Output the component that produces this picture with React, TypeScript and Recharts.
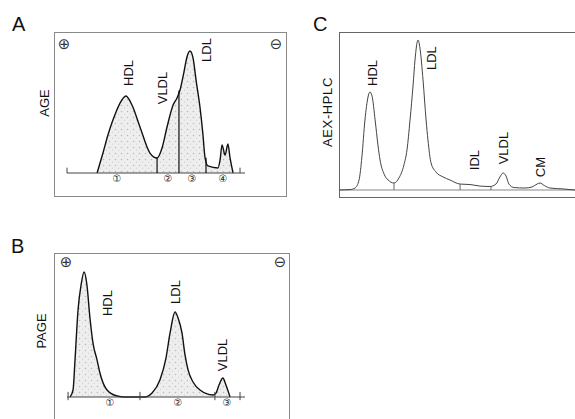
import {
  ComposedChart,
  Area,
  Line,
  XAxis,
  YAxis,
  ReferenceLine,
  ReferenceDot,
} from "recharts";

// A: agarose gel electrophoresis (relative mobility 0-100, relative signal 0-100)
const AGE_POS = [16.9, 20.2, 23.0, 25.8, 29.8, 33.1, 36.5, 41.0, 46.6, 50.6, 53.4, 56.2, 59.6, 61.8, 63.5, 65.7, 67.4, 69.1, 70.8, 72.5, 74.7, 76.4, 77.5, 79.2, 84.8, 86.0, 87.1, 88.8, 90.4, 91.6, 93.3];
const AGE_SIGNAL = [0, 15.0, 28.6, 39.8, 52.6, 57.9, 51.1, 34.6, 15.0, 11.3, 18.8, 34.6, 51.1, 56.4, 62.4, 75.9, 87.2, 91.7, 86.5, 69.9, 49.6, 28.6, 12.0, 5.3, 3.8, 9.8, 21.1, 13.5, 21.8, 11.3, 0];
const AGE_CUTS = [50.6, 62.9, 78.1];
const AGE_CUT_TOPS = [11.5, 62, 11.5];
const AGE_ENDS = [0, 97.2];
const AGE_FRACTIONS = ["①", "②", "③", "④"];
const AGE_FRACTION_POS = [28.1, 56.7, 70.2, 87.6];
const AGE_PEAKS = ["HDL", "VLDL", "LDL"];
const AGE_PEAK_POS = [34.3, 53.9, 78.1];
const AGE_PEAK_LEVEL = [75.2, 63.9, 92.5];

// B: polyacrylamide gel electrophoresis
const PAGE_POS = [1.7, 3.4, 4.5, 6.2, 7.9, 9.6, 11.2, 12.9, 14.6, 16.9, 18.5, 22.5, 28.1, 32.6, 43.8, 47.8, 52.2, 55.6, 57.9, 60.7, 62.4, 64.6, 66.3, 68.0, 70.8, 74.7, 82.0, 83.7, 85.4, 87.6, 89.3, 91.6];
const PAGE_SIGNAL = [0, 5.5, 29.1, 68.5, 88.2, 98.4, 88.2, 62.2, 42.5, 29.1, 18.9, 5.5, 0.8, 0, 0, 3.1, 13.4, 30.7, 50.4, 66.9, 62.2, 50.4, 33.1, 21.3, 11.8, 5.5, 1.6, 3.1, 9.4, 15.0, 9.4, 0];
const PAGE_ENDS = [0.6, 41.0, 83.1, 97.2];
const PAGE_FRACTIONS = ["①", "②", "③"];
const PAGE_FRACTION_POS = [24.2, 62.4, 89.9];
const PAGE_PEAKS = ["HDL", "LDL", "VLDL"];
const PAGE_PEAK_POS = [22.5, 60.7, 87.6];
const PAGE_PEAK_LEVEL = [74.0, 82.7, 33.1];

// C: anion-exchange HPLC
const HPLC_TIME = [0, 4.7, 6.8, 8.5, 9.7, 11.0, 12.3, 13.1, 14.0, 15.3, 16.5, 17.4, 19.1, 20.8, 23.3, 25.4, 27.5, 28.8, 30.1, 31.4, 32.2, 33.5, 34.3, 35.6, 36.9, 37.7, 39.0, 41.1, 44.1, 47.0, 51.3, 55.5, 59.7, 64.0, 66.5, 68.2, 69.5, 70.8, 72.0, 74.2, 78.8, 81.8, 83.9, 85.2, 86.9, 89.4, 94.9, 100];
const HPLC_SIGNAL = [0, 0.3, 1.3, 6.6, 21.7, 46.1, 61.2, 64.5, 61.8, 46.1, 29.6, 19.7, 10.5, 6.6, 4.6, 7.9, 16.4, 26.3, 46.1, 69.1, 85.5, 98.7, 93.4, 72.4, 46.1, 32.9, 17.8, 11.8, 8.6, 6.6, 3.9, 3.6, 2.6, 2.3, 3.9, 8.6, 11.2, 9.2, 3.9, 1.6, 1.3, 2.0, 3.9, 4.6, 3.0, 1.3, 0.7, 0];
const HPLC_CUTS = [23.3, 51.3, 64.4];
const HPLC_CUT_TOPS = [4.6, 3.9, 2.3];
const HPLC_PEAKS = ["HDL", "LDL", "IDL", "VLDL", "CM"];
const HPLC_PEAK_POS = [14.0, 39.4, 57.6, 69.5, 85.2];
const HPLC_PEAK_LEVEL = [77.0, 86.8, 19.7, 27.6, 15.1];

const SANS = "'Liberation Sans', Arial, sans-serif";

function zip(xs: number[], ys: number[]) {
  return xs.map((x, i) => ({ x, y: ys[i] }));
}

function rotatedLabel(text: string) {
  return (p: any) => (
    <text
      x={p.cx}
      y={p.cy}
      transform={`rotate(-90 ${p.cx} ${p.cy})`}
      textAnchor="middle"
      dominantBaseline="central"
      fontFamily={SANS}
      fontSize={13}
      fill="#111"
    >
      {text}
    </text>
  );
}

function Stipple({ id }: { id: string }) {
  return (
    <defs>
      <pattern id={id} width="6" height="6" patternUnits="userSpaceOnUse">
        <rect width="6" height="6" fill="#eeeeee" />
        <circle cx="1.5" cy="1.5" r="0.8" fill="#bcbcbc" />
        <circle cx="4.5" cy="4.2" r="0.6" fill="#d0d0d0" />
      </pattern>
    </defs>
  );
}

type GelProps = {
  id: string;
  width: number;
  height: number;
  margin: { top: number; right: number; bottom: number; left: number };
  pos: number[];
  signal: number[];
  cuts: number[];
  cutTops: number[];
  ends: number[];
  endLow: number;
  fractions: string[];
  fractionPos: number[];
  peaks: string[];
  peakPos: number[];
  peakLevel: number[];
};

function Gel(props: GelProps) {
  const data = zip(props.pos, props.signal);
  return (
    <ComposedChart width={props.width} height={props.height} data={data} margin={props.margin}>
      <Stipple id={props.id} />
      <XAxis
        type="number"
        dataKey="x"
        domain={[0, 100]}
        ticks={props.fractionPos}
        interval={0}
        tickFormatter={(v: number) => props.fractions[props.fractionPos.indexOf(v)] ?? ""}
        axisLine={false}
        tickLine={false}
        tickSize={0}
        tickMargin={2}
        height={14}
        tick={{ fontSize: 10, fill: "#222", fontFamily: "DejaVu Sans" }}
      />
      <YAxis hide type="number" domain={[0, 100]} />
      <Area
        type="monotone"
        dataKey="y"
        stroke="#111"
        strokeWidth={1.4}
        fill={`url(#${props.id})`}
        fillOpacity={1}
        dot={false}
        activeDot={false}
        isAnimationActive={false}
      />
      <ReferenceLine y={0} stroke="#444" strokeWidth={1} />
      {props.cuts.map((c, i) => (
        <ReferenceLine
          key={"c" + i}
          segment={[{ x: c, y: 0 }, { x: c, y: props.cutTops[i] }]}
          stroke="#111"
          strokeWidth={1.2}
        />
      ))}
      {props.ends.map((e, i) => (
        <ReferenceLine
          key={"e" + i}
          segment={[{ x: e, y: props.endLow }, { x: e, y: 4 }]}
          stroke="#444"
          strokeWidth={1}
          ifOverflow="visible"
        />
      ))}
      {props.peaks.map((t, i) => (
        <ReferenceDot
          key={"p" + i}
          x={props.peakPos[i]}
          y={props.peakLevel[i]}
          r={0}
          ifOverflow="visible"
          shape={rotatedLabel(t)}
        />
      ))}
    </ComposedChart>
  );
}

function Hplc() {
  const data = zip(HPLC_TIME, HPLC_SIGNAL);
  return (
    <ComposedChart width={236} height={166} data={data} margin={{ top: 6, right: 0, bottom: 8, left: 0 }}>
      <XAxis hide type="number" dataKey="x" domain={[0, 100]} />
      <YAxis hide type="number" domain={[0, 100]} />
      <ReferenceLine y={0} stroke="#888" strokeWidth={1.2} />
      <Line
        type="monotone"
        dataKey="y"
        stroke="#444"
        strokeWidth={1}
        dot={false}
        activeDot={false}
        isAnimationActive={false}
      />
      {HPLC_CUTS.map((c, i) => (
        <ReferenceLine
          key={"c" + i}
          segment={[{ x: c, y: 0 }, { x: c, y: HPLC_CUT_TOPS[i] }]}
          stroke="#666"
          strokeWidth={1}
        />
      ))}
      {HPLC_PEAKS.map((t, i) => (
        <ReferenceDot
          key={"p" + i}
          x={HPLC_PEAK_POS[i]}
          y={HPLC_PEAK_LEVEL[i]}
          r={0}
          ifOverflow="visible"
          shape={rotatedLabel(t)}
        />
      ))}
    </ComposedChart>
  );
}

const abs = (left: number, top: number, extra: any = {}) => ({
  position: "absolute" as const,
  left,
  top,
  ...extra,
});

function Letter({ text, left, top }: { text: string; left: number; top: number }) {
  return (
    <div style={abs(left, top, { fontFamily: SANS, fontSize: 20, lineHeight: "20px", color: "#111" })}>
      {text}
    </div>
  );
}

function SideTitle({ text, cx, cy, spacing = 0 }: { text: string; cx: number; cy: number; spacing?: number }) {
  return (
    <div
      style={abs(cx - 60, cy - 8, {
        width: 120,
        height: 16,
        lineHeight: "16px",
        textAlign: "center",
        fontFamily: SANS,
        fontSize: 13,
        letterSpacing: spacing,
        color: "#111",
        transform: "rotate(-90deg)",
      })}
    >
      {text}
    </div>
  );
}

function Pole({ sym, cx, cy }: { sym: string; cx: number; cy: number }) {
  return (
    <div
      style={abs(cx - 9, cy - 9, {
        width: 18,
        height: 18,
        lineHeight: "18px",
        textAlign: "center",
        fontFamily: "DejaVu Sans",
        fontSize: 15,
        color: "#333",
      })}
    >
      {sym}
    </div>
  );
}

export default function App() {
  return (
    <div style={abs(0, 0, { width: 575, height: 419, background: "#fff", overflow: "hidden" })}>
      <Letter text="A" left={12} top={14} />
      <Letter text="B" left={11} top={236} />
      <Letter text="C" left={313} top={14} />

      <div style={abs(54, 32, { width: 233, height: 165, border: "1px solid #8a8a8a", boxSizing: "border-box" })} />
      <div style={abs(54, 253, { width: 236, height: 180, border: "1px solid #8a8a8a", boxSizing: "border-box" })} />
      <div
        style={abs(339, 32, {
          width: 240,
          height: 166,
          borderTop: "1.5px solid #666",
          borderLeft: "1.5px solid #666",
          borderBottom: "1.5px solid #666",
          boxSizing: "border-box",
        })}
      />

      <Pole sym="⊕" cx={64} cy={44} />
      <Pole sym="⊖" cx={276} cy={44} />
      <Pole sym="⊕" cx={66} cy={262} />
      <Pole sym="⊖" cx={280} cy={262} />

      <SideTitle text="AGE" cx={45} cy={103} />
      <SideTitle text="PAGE" cx={42} cy={331} />
      <SideTitle text="AEX-HPLC" cx={328} cy={112} spacing={0.6} />

      <div style={abs(54, 32)}>
        <Gel
          id="stippleA"
          width={233}
          height={165}
          margin={{ top: 8, right: 42, bottom: 10, left: 13 }}
          pos={AGE_POS}
          signal={AGE_SIGNAL}
          cuts={AGE_CUTS}
          cutTops={AGE_CUT_TOPS}
          ends={AGE_ENDS}
          endLow={0}
          fractions={AGE_FRACTIONS}
          fractionPos={AGE_FRACTION_POS}
          peaks={AGE_PEAKS}
          peakPos={AGE_PEAK_POS}
          peakLevel={AGE_PEAK_LEVEL}
        />
      </div>

      <div style={abs(54, 253)}>
        <Gel
          id="stippleB"
          width={236}
          height={166}
          margin={{ top: 17, right: 45, bottom: 8, left: 13 }}
          pos={PAGE_POS}
          signal={PAGE_SIGNAL}
          cuts={[]}
          cutTops={[]}
          ends={PAGE_ENDS}
          endLow={-2.5}
          fractions={PAGE_FRACTIONS}
          fractionPos={PAGE_FRACTION_POS}
          peaks={PAGE_PEAKS}
          peakPos={PAGE_PEAK_POS}
          peakLevel={PAGE_PEAK_LEVEL}
        />
      </div>

      <div style={abs(339, 32)}>
        <Hplc />
      </div>
    </div>
  );
}
